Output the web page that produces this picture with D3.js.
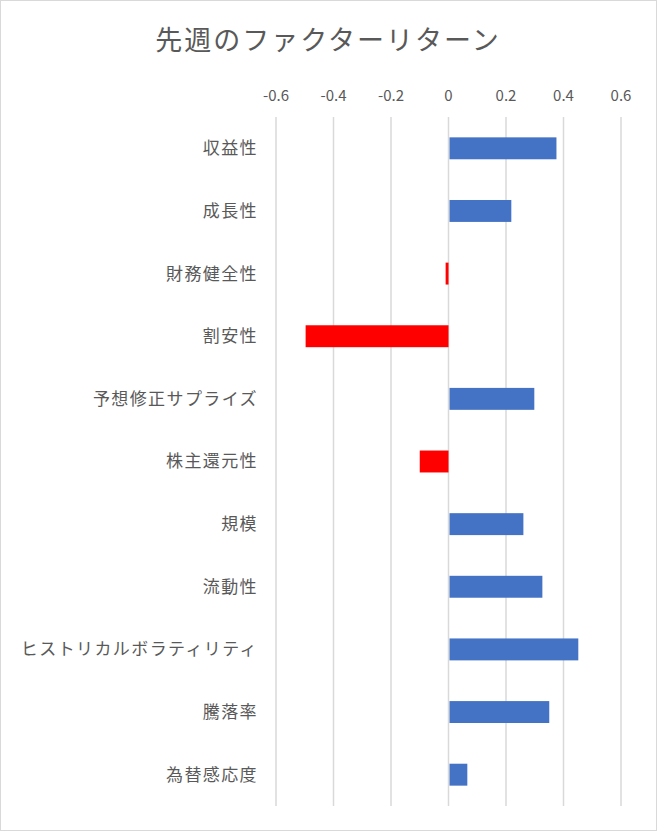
<!DOCTYPE html>
<html><head><meta charset="utf-8">
<script src="https://cdn.jsdelivr.net/npm/d3@7"></script>
<style>body{margin:0;background:#fff}</style>
</head><body>
<svg id="chart" width="657" height="831"></svg>
<script>
var categories = ["収益性","成長性","財務健全性","割安性","予想修正サプライズ","株主還元性","規模","流動性","ヒストリカルボラティリティ","騰落率","為替感応度"];
var values = [0.372, 0.215, -0.01, -0.497, 0.295, -0.10, 0.257, 0.323, 0.448, 0.347, 0.062];
var tickValues = [-0.6, -0.4, -0.2, 0, 0.2, 0.4, 0.6];
var title = "先週のファクターリターン";

var svg = d3.select("#chart"),
  font = "'Noto Sans CJK JP', 'Noto Sans', sans-serif";

svg.append("rect").attr("x", 0.5).attr("y", 0.5).attr("width", 656).attr("height", 830)
  .attr("fill", "#fff").attr("stroke", "#d9d9d9");

var x = d3.scaleLinear().domain([-0.6, 0.6]).range([276, 621]);
var y = d3.scaleBand().domain(categories).range([117, 806]).paddingInner(0.65).paddingOuter(0.325);

// gridlines
svg.append("g").selectAll("line").data(tickValues).enter().append("line")
  .attr("x1", function(d) { return x(d); }).attr("x2", function(d) { return x(d); })
  .attr("y1", 117).attr("y2", 806)
  .attr("stroke", "#d9d9d9").attr("stroke-width", 1.5);

// tick labels
svg.append("g").selectAll("text").data(tickValues).enter().append("text")
  .attr("x", function(d) { return x(d); }).attr("y", 101)
  .attr("text-anchor", "middle").style("font-family", font).style("font-size", "15px")
  .attr("fill", "#595959").text(function(d) { return d === 0 ? "0" : d.toFixed(1); });

// bars
svg.append("g").selectAll("rect").data(values).enter().append("rect")
  .attr("x", function(d) { return d < 0 ? x(d) : x(0) + 1; })
  .attr("y", function(d, i) { return y(categories[i]); })
  .attr("width", function(d) { return Math.max(2, Math.abs(x(d) - x(0))); })
  .attr("height", y.bandwidth())
  .attr("fill", function(d) { return d < 0 ? "#ff0000" : "#4472c4"; });

// category labels
svg.append("g").selectAll("text").data(categories).enter().append("text")
  .attr("x", 258).attr("y", function(d) { return y(d) + y.bandwidth() / 2; })
  .attr("dy", "0.35em").attr("text-anchor", "end")
  .style("font-family", font).style("font-size", "17px").style("letter-spacing", "1.4px")
  .attr("fill", "#595959")
  .text(function(d) { return d; });

svg.append("text").attr("x", 328).attr("y", 50).attr("text-anchor", "middle")
  .style("font-family", font).style("font-size", "27px").style("letter-spacing", "2px")
  .attr("fill", "#595959").text(title);
</script>
</body></html>
